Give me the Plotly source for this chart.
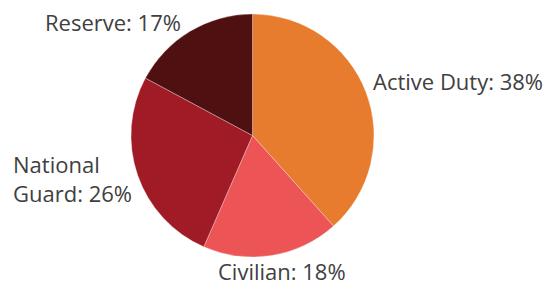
import plotly.graph_objects as go

categories = ["Active Duty", "Civilian", "National Guard", "Reserve"]
values = [38, 18, 26, 17]
label_texts = ["Active Duty: 38%", "Civilian: 18%", "National<br>Guard: 26%", "Reserve: 17%"]
colors = ["#E87C2E", "#EC5456", "#A01B25", "#4F1012"]

OFF = 8  # default page body margin
W, H = 553 - OFF, 284 - OFF
cx, cy, r = 252.5 - OFF, 135.5 - OFF, 121.5

fig = go.Figure(go.Pie(
    labels=categories,
    values=values,
    sort=False,
    direction="clockwise",
    rotation=0,
    textinfo="none",
    hoverinfo="label+percent",
    marker=dict(colors=colors, line=dict(color="rgba(255,255,255,0.6)", width=0.5)),
    domain=dict(x=[(cx - r) / W, (cx + r) / W], y=[(H - cy - r) / H, (H - cy + r) / H]),
    showlegend=False,
))

# label anchor positions (reference pixels): x, y, xanchor
label_pos = [(371, 81, "left"), (282, 271, "center"), (11, 178, "left"), (112.5, 22, "center")]
font = dict(family="Open Sans, Lato, sans-serif", size=22, color="#404040")
for txt, (x, y, xa) in zip(label_texts, label_pos):
    fig.add_annotation(x=(x - OFF) / W, y=1 - (y - OFF) / H, xref="paper", yref="paper", text=txt,
                       showarrow=False, xanchor=xa, yanchor="middle", align="left", font=font)

fig.update_layout(width=W, height=H, margin=dict(l=0, r=0, t=0, b=0),
                  paper_bgcolor="white", plot_bgcolor="white")
fig.write_html("out.html")
